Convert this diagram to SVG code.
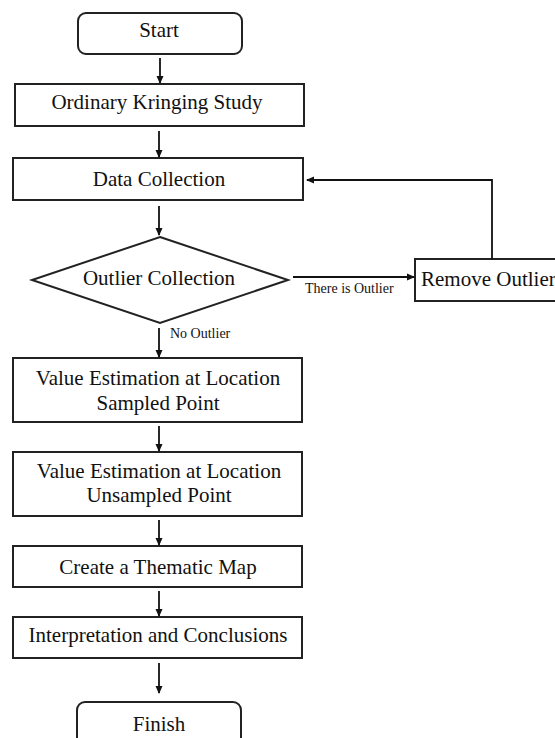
<svg xmlns="http://www.w3.org/2000/svg" width="555" height="738" viewBox="0 0 555 738">
<defs>
<marker id="ah" markerWidth="8" markerHeight="8" refX="7" refY="4" orient="auto" markerUnits="userSpaceOnUse">
<path d="M0,0.5 L8,4 L0,7.5 Z" fill="#111"/>
</marker>
<style>
.b{fill:#fff;stroke:#222;stroke-width:2}
.t{font-family:"Liberation Serif","Times New Roman",serif;font-size:21px;fill:#111;text-anchor:middle}
.s{font-family:"Liberation Serif","Times New Roman",serif;font-size:14px;fill:#111}
.c{fill:none;stroke:#111;stroke-width:1.8;marker-end:url(#ah)}
</style>
</defs>
<rect width="555" height="738" fill="#fff"/>
<g id="start"><rect class="b" x="78" y="13" width="164" height="41" rx="8"/><text class="t" x="159" y="37">Start</text></g>
<g id="ordinary"><rect class="b" x="15" y="84" width="289" height="42"/><text class="t" x="157" y="109">Ordinary Kringing Study</text></g>
<g id="data"><rect class="b" x="13" y="158" width="290" height="42"/><text class="t" x="159" y="186">Data Collection</text></g>
<g id="outlier"><polygon class="b" points="160,237 288,280 160,323 32,280"/><text class="t" x="159" y="285">Outlier Collection</text></g>
<g id="remove"><rect class="b" x="415" y="259" width="150" height="42"/><text class="t" x="421" y="286" style="text-anchor:start">Remove Outlier</text></g>
<g id="sampled"><rect class="b" x="13" y="358" width="289" height="64"/><text class="t" x="158" y="385">Value Estimation at Location</text><text class="t" x="158" y="410">Sampled Point</text></g>
<g id="unsampled"><rect class="b" x="13" y="452" width="289" height="64"/><text class="t" x="159" y="478">Value Estimation at Location</text><text class="t" x="159" y="502">Unsampled Point</text></g>
<g id="map"><rect class="b" x="13" y="546" width="289" height="41"/><text class="t" x="158" y="574">Create a Thematic Map</text></g>
<g id="interp"><rect class="b" x="13" y="617" width="289" height="41"/><text class="t" x="158" y="642">Interpretation and Conclusions</text></g>
<g id="finish"><rect class="b" x="77" y="702" width="164" height="45" rx="8"/><text class="t" x="159" y="731">Finish</text></g>
<g id="connectors">
<line class="c" x1="160" y1="58" x2="160" y2="83"/>
<line class="c" x1="159" y1="131" x2="159" y2="157"/>
<line class="c" x1="159" y1="206" x2="159" y2="235"/>
<line class="c" x1="293" y1="277" x2="414" y2="277"/>
<text class="s" x="305" y="293">There is Outlier</text>
<polyline class="c" points="492,259 492,180 307,180"/>
<line class="c" x1="159" y1="328" x2="159" y2="357"/>
<text class="s" x="170" y="338">No Outlier</text>
<line class="c" x1="159" y1="426" x2="159" y2="451"/>
<line class="c" x1="159" y1="520" x2="159" y2="545"/>
<line class="c" x1="159" y1="591" x2="159" y2="616"/>
<line class="c" x1="159" y1="663" x2="159" y2="693"/>
</g>
</svg>
